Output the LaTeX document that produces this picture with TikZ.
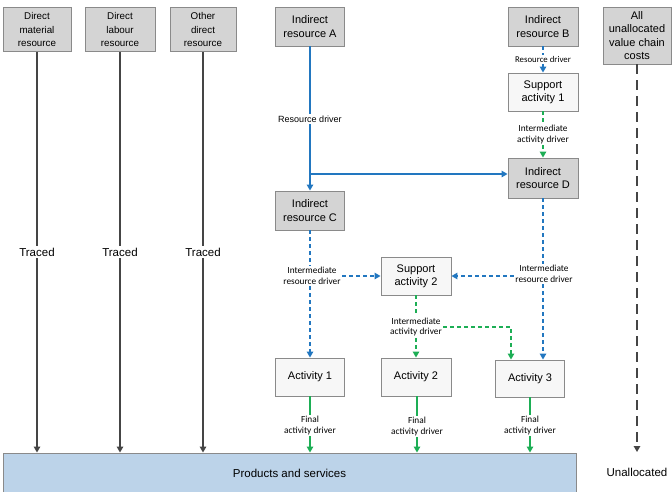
\documentclass[tikz,border=0pt]{standalone}
\usepackage{fontspec}
\setmainfont{Liberation Sans}
\newfontfamily\calfont{Carlito}
\usetikzlibrary{arrows.meta,calc}
\definecolor{boxgray}{HTML}{D4D4D4}
\definecolor{boxline}{HTML}{8A8A8A}
\definecolor{blueline}{HTML}{2277C0}
\definecolor{greenline}{HTML}{1DAE55}
\definecolor{darkline}{HTML}{454545}
\definecolor{prodfill}{HTML}{BCD3E9}
\begin{document}
\begin{tikzpicture}[x=1pt,y=-1pt,
  gbox/.style={draw=boxline,fill=boxgray,align=center,font=\fontsize{11}{13.3}\selectfont,inner sep=1pt,line width=0.9pt},
  dbox/.style={gbox,font=\fontsize{9.8}{13.3}\selectfont},
  wbox/.style={gbox,fill=white!97!black},
  lbl/.style={fill=white,align=center,font=\calfont\fontsize{9.3}{10.5}\selectfont,inner sep=1.5pt},
  tlbl/.style={fill=white,align=center,font=\fontsize{11.5}{13}\selectfont,inner sep=2pt},
  tip/.style={-{Triangle[width=6.5pt,length=6pt]}},
  conn/.style={line width=1.3pt},
  bdash/.style={conn,blueline,dash pattern=on 4pt off 3pt},
  gdash/.style={conn,greenline,dash pattern=on 4pt off 3pt}
]
\useasboundingbox (0,0) rectangle (672,491);

% boxes
\node[dbox,minimum width=68pt,minimum height=44pt] (dm) at (37,29.5) {Direct\\material\\resource};
\node[dbox,minimum width=70pt,minimum height=44pt] (dl) at (120,29.5) {Direct\\labour\\resource};
\node[dbox,minimum width=66pt,minimum height=44pt] (od) at (203,29.5) {Other\\direct\\resource};
\node[gbox,minimum width=69pt,minimum height=39pt] (ia) at (310,26.5) {Indirect\\resource A};
\node[gbox,minimum width=70pt,minimum height=39pt] (ib) at (543,26.5) {Indirect\\resource B};
\node[wbox,minimum width=70pt,minimum height=38pt] (s1) at (543,92) {Support\\activity 1};
\node[gbox,minimum width=70pt,minimum height=40pt] (id) at (543,178) {Indirect\\resource D};
\node[gbox,minimum width=69pt,minimum height=39pt] (ic) at (310,210.5) {Indirect\\resource C};
\node[gbox,minimum width=68pt,minimum height=57pt,inner sep=0pt] (uv) at (637,35.5) {All\\unallocated\\value chain\\costs};
\node[wbox,minimum width=70pt,minimum height=38pt] (s2) at (416,276) {Support\\activity 2};
\node[wbox,minimum width=69pt,minimum height=38pt] (a1) at (310,377) {Activity 1};
\node[wbox,minimum width=70pt,minimum height=38pt] (a2) at (416,377) {Activity 2};
\node[wbox,minimum width=69pt,minimum height=37pt] (a3) at (530,378.5) {Activity 3};
\node[draw=boxline,fill=prodfill,line width=0.9pt,minimum width=573pt,minimum height=40pt,font=\fontsize{11.5}{13}\selectfont] (ps) at (289.5,473) {Products and services};
\node[font=\fontsize{11.5}{13}\selectfont] (un) at (637,472) {Unallocated};

% traced lines
\node[tlbl] (t1) at (37,252) {Traced};
\node[tlbl] (t2) at (120,252) {Traced};
\node[tlbl] (t3) at (203,252) {Traced};
\draw[conn,darkline] (dm) -- (t1);
\draw[conn,darkline,tip] (t1) -- (t1 |- ps.north);
\draw[conn,darkline] (dl) -- (t2);
\draw[conn,darkline,tip] (t2) -- (t2 |- ps.north);
\draw[conn,darkline] (od) -- (t3);
\draw[conn,darkline,tip] (t3) -- (t3 |- ps.north);

% unallocated
\coordinate (ue) at (637,452);
\draw[conn,darkline,dash pattern=on 10pt off 6pt,tip] (uv) -- (ue);

% indirect A -> C and -> D
\node[lbl,font=\fontsize{9}{10}\selectfont] (rd1) at (310,119) {Resource driver};
\draw[conn,blueline] (ia) -- (rd1);
\draw[conn,blueline,tip] (rd1) -- (ic);
\coordinate (j) at (310,174);
\draw[conn,blueline,tip] (j) -- (j -| id.west);

% B -> S1 -> D
\node[lbl,font=\calfont\fontsize{8.8}{10}\selectfont,inner sep=1pt] (rd2) at (543,59.5) {Resource driver};
\draw[bdash] (ib) -- (rd2);
\draw[bdash,tip] (rd2) -- (s1);
\node[lbl] (iad1) at (543,134.5) {Intermediate\\activity driver};
\draw[gdash] (s1) -- (iad1);
\draw[gdash,tip] (iad1) -- (id);

% C -> A1, C -> S2
\node[lbl] (ird1) at (312,276) {Intermediate\\resource driver};
\draw[bdash] (ic) -- (ic |- ird1.north);
\draw[bdash,tip] (ic |- ird1.south) -- (ic |- a1.north);
\draw[bdash,tip] (ird1.east) -- (s2.west);

% D -> A3, D -> S2
\node[lbl] (ird2) at (544,274) {Intermediate\\resource driver};
\draw[bdash] (id) -- (id |- ird2.north);
\draw[bdash,tip] (id |- ird2.south) -- (id |- a3.north);
\draw[bdash,tip] (ird2.west |- s2.east) -- (s2.east);

% S2 -> A2, S2 -> A3
\node[lbl] (iad2) at (416,327) {Intermediate\\activity driver};
\draw[gdash] (s2) -- (iad2);
\draw[gdash,tip] (iad2) -- (a2);
\coordinate (k) at (511,327);
\draw[gdash,tip] (iad2.east) -- (k) -- (k |- a3.north);

% final drivers
\node[lbl] (f1) at (310,425.5) {Final\\activity driver};
\node[lbl] (f2) at (417,426.5) {Final\\activity driver};
\node[lbl] (f3) at (530,425.5) {Final\\activity driver};
\draw[conn,greenline] (a1) -- (f1);
\draw[conn,greenline,tip] (f1) -- (f1 |- ps.north);
\draw[conn,greenline] (a2.south -| f2) -- (f2);
\draw[conn,greenline,tip] (f2) -- (f2 |- ps.north);
\draw[conn,greenline] (a3) -- (f3);
\draw[conn,greenline,tip] (f3) -- (f3 |- ps.north);
\end{tikzpicture}
\end{document}
